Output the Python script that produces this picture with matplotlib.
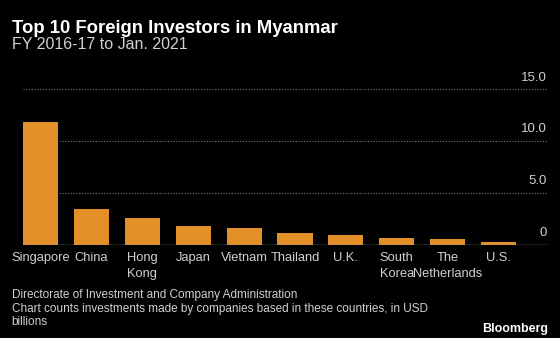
import matplotlib.pyplot as plt

# Top 10 foreign investors in Myanmar, FY 2016-17 to Jan. 2021 (USD billions)
countries = ["Singapore", "China", "Hong\nKong", "Japan", "Vietnam", "Thailand",
             "U.K.", "South\nKorea", "The\nNetherlands", "U.S."]
investment = [11.8, 3.45, 2.52, 1.81, 1.55, 1.13, 0.90, 0.65, 0.55, 0.29]
y_ticks = [0, 5, 10, 15]
y_tick_labels = ["0", "5.0", "10.0", "15.0"]

BG = "black"
BAR = "#e3902b"
TXT = "#d0d0d0"

plt.rcParams["font.family"] = ["Liberation Sans", "DejaVu Sans"]

fig = plt.figure(figsize=(5.6, 3.38), dpi=100, facecolor=BG)
ax = fig.add_axes([0.041, 0.2766, 0.936, 0.4592], facecolor=BG)

width = 0.69
ax.bar(range(len(countries)), investment, width=width, color=BAR, zorder=2)

ax.set_xlim(-width / 2, len(countries) - 0.045)
ax.set_ylim(0, 15)

# dotted gridlines with value labels sitting above them on the right
for v, lab in zip(y_ticks, y_tick_labels):
    if v > 0:
        ax.axhline(v, color="#777777", lw=0.8, ls=(0, (1, 1.5)), zorder=1)
    ax.annotate(lab, xy=(1.0, v), xycoords=ax.get_yaxis_transform(),
                xytext=(0, 4), textcoords="offset points",
                ha="right", va="bottom", color=TXT, fontsize=9.5)
ax.axhline(0, color="#9a9a9a", lw=1.0, zorder=3)

ax.set_yticks([])
ax.set_xticks(range(len(countries)))
ax.set_xticklabels(countries, color=TXT, fontsize=9.3, linespacing=1.38)
ax.tick_params(axis="x", length=0, pad=5.5)
for s in ax.spines.values():
    s.set_visible(False)

fig.text(0.021, 0.903, "Top 10 Foreign Investors in Myanmar", color="white",
         fontsize=13.3, fontweight="bold", ha="left", va="baseline")
fig.text(0.021, 0.855, "FY 2016-17 to Jan. 2021", color=TXT,
         fontsize=11.5, ha="left", va="baseline")

fig.text(0.021, 0.0385,
         "Directorate of Investment and Company Administration\n"
         "Chart counts investments made by companies based in these countries, in USD\n"
         "billions",
         color=TXT, fontsize=8.5, ha="left", va="baseline", linespacing=1.16)
fig.text(0.978, 0.018, "Bloomberg", color="white", fontsize=9,
         fontweight="bold", ha="right", va="baseline")

plt.savefig("out.png", dpi=100, facecolor=BG)
